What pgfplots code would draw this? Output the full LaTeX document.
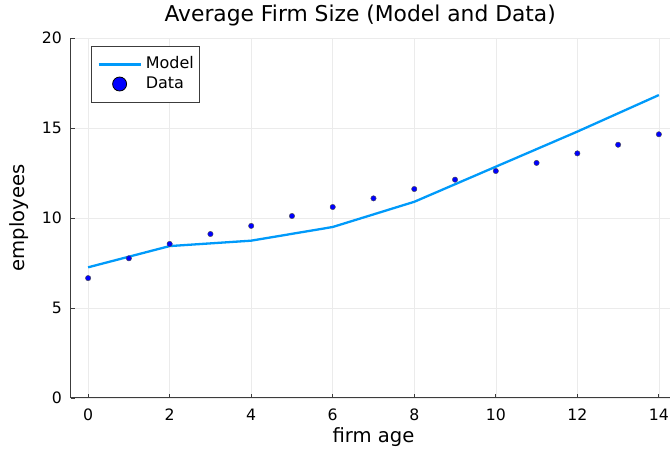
\documentclass[border=0pt]{standalone}
\usepackage{pgfplots}
\pgfplotsset{compat=1.18}
\usepackage{fontspec}
\setmainfont{DejaVu Sans}
\definecolor{juliablue}{RGB}{0,154,250}
\definecolor{axgray}{RGB}{60,60,60}
\begin{document}
\begin{tikzpicture}[x=1pt,y=1pt]
\path[use as bounding box] (0,0) rectangle (670,457);
\begin{axis}[
  at={(71pt,59pt)}, anchor=south west,
  scale only axis, width=605pt, height=360pt,
  xmin=-0.42, xmax=14.42, ymin=0, ymax=20,
  xtick={0,2,...,14}, ytick={0,5,10,15,20},
  axis x line*=bottom, axis y line*=left,
  axis line style={axgray, line width=1pt, -},
  tick align=inside, major tick length=4pt,
  tick style={axgray, line width=0.8pt},
  grid=major, grid style={black!8, line width=0.6pt},
  /pgf/number format/assume math mode=true,
  ticklabel style={font=\fontsize{15.7}{18}\selectfont, inner sep=0pt},
  xticklabel style={anchor=base, yshift=-23pt},
  yticklabel style={anchor=east, xshift=-9pt},
  title={Average Firm Size (Model and Data)},
  every axis title shift=0pt,
  title style={at={(0.478,1)}, anchor=base, yshift=16pt, inner sep=0pt,
    font=\fontsize{21.8}{26}\selectfont},
  xlabel={firm age},
  xlabel style={at={(axis description cs:0.5,0)}, anchor=base, yshift=-45pt,
    inner sep=0pt, font=\fontsize{19.6}{23}\selectfont},
  ylabel={employees},
  ylabel style={at={([xshift=-46pt]axis description cs:0,0.5)}, rotate=0, anchor=base,
    inner sep=0pt, font=\fontsize{19.6}{23}\selectfont},
  legend style={at={(0.033,0.978)}, anchor=north west, draw=axgray, line width=1pt,
    font=\fontsize{16}{19}\selectfont, inner xsep=6pt, inner ysep=10.5pt,
    column sep=4pt, row sep=4.6pt,
    nodes={inner sep=0pt, text height=12pt, text depth=3pt}},
  legend cell align=left,
]
\addplot[juliablue, line width=2.3pt,
  legend image code/.code={\draw[juliablue, line width=2.3pt] (0pt,0pt) -- (42pt,0pt);}]
  coordinates {(0,7.26)(2,8.44)(4,8.74)(6,9.5)(8,10.9)(10,12.85)(12,14.8)(14,16.83)};
\addlegendentry{Model}
\addplot[only marks, mark=*, mark size=2.7pt,
  mark options={fill=blue, draw=black!70, line width=0.4pt},
  legend image code/.code={\draw[fill=blue, draw=black, line width=0.8pt] (21pt,0pt) circle (7pt);}]
  coordinates {(0,6.66)(1,7.76)(2,8.56)(3,9.11)(4,9.56)(5,10.11)(6,10.61)(7,11.09)
    (8,11.61)(9,12.13)(10,12.61)(11,13.06)(12,13.59)(13,14.07)(14,14.65)};
\addlegendentry{Data}
\end{axis}
\end{tikzpicture}
\end{document}
